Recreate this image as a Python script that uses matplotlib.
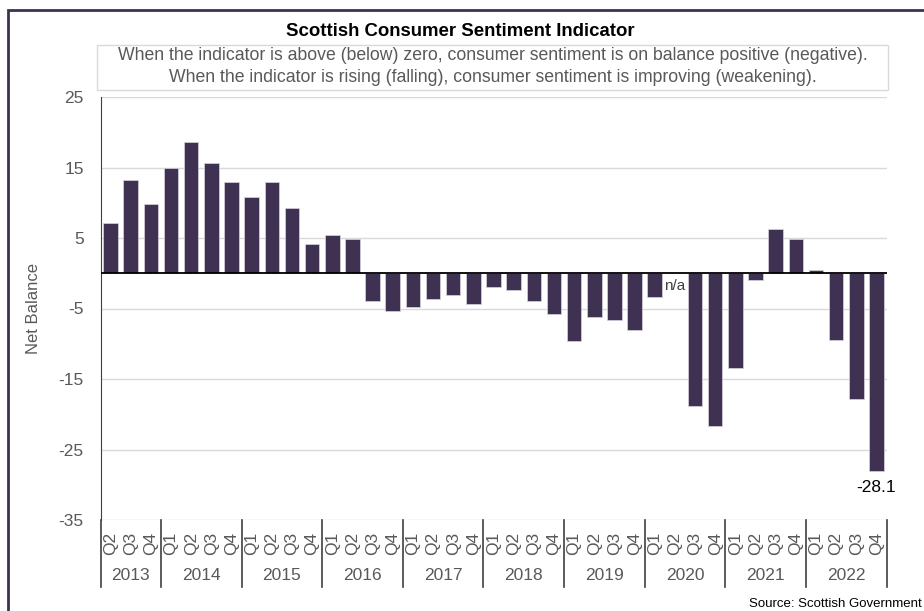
import matplotlib.pyplot as plt
import matplotlib.patches as mpatches
from matplotlib.lines import Line2D

plt.rcParams['font.family'] = ['Liberation Sans', 'DejaVu Sans']

years = ["2013", "2014", "2015", "2016", "2017", "2018", "2019", "2020", "2021", "2022"]
quarters = (["Q2", "Q3", "Q4"] + ["Q1", "Q2", "Q3", "Q4"] * 9)
# None = n/a (2020 Q2)
values = [7.1, 13.2, 9.8,
          14.9, 18.6, 15.6, 13.0,
          10.8, 13.0, 9.2, 4.2,
          5.4, 4.9, -3.9, -5.4,
          -4.8, -3.6, -3.1, -4.3,
          -1.9, -2.4, -3.9, -5.8,
          -9.6, -6.2, -6.6, -8.1,
          -3.4, None, -18.8, -21.6,
          -13.5, -0.9, 6.3, 4.9,
          0.5, -9.4, -17.8, -28.1]
yticks = [-35, -25, -15, -5, 5, 15, 25]

W, H = 924, 611
BAR = "#3f3151"
GREY = "#595959"

fig = plt.figure(figsize=(W / 100, H / 100), dpi=100)

# outer frame
fig.add_artist(mpatches.Rectangle((8 / W, -0.1), 1.2, (H - 10) / H + 0.1,
                                  transform=fig.transFigure, fill=False,
                                  edgecolor=BAR, linewidth=2))

x0, x1, ytop, ybot = 100.5, 886.5, 97, 520
ax = fig.add_axes([x0 / W, (H - ybot) / H, (x1 - x0) / W, (ybot - ytop) / H])

xs = list(range(len(values)))
for x, v in zip(xs, values):
    if v is None:
        ax.text(x, -0.8, "n/a", ha="center", va="top", fontsize=11, color="#404040")
        continue
    ax.bar(x, v, width=0.72, color=BAR, edgecolor="#d8d4de", linewidth=0.5, zorder=3)

ax.text(xs[-1], values[-1] - 1.2, f"{values[-1]:.1f}", ha="center", va="top",
        fontsize=12.5, color="black")

ax.set_xlim(-0.5, len(values) - 0.5)
ax.set_ylim(-35, 25)
ax.set_yticks(yticks)
ax.set_yticklabels([str(t) for t in yticks], fontsize=12.5, color=GREY)
ax.tick_params(axis="y", length=0, pad=12)
ax.set_xticks([])
ax.grid(axis="y", color="#d9d9d9", linewidth=1, zorder=0)
ax.axhline(0, color="black", linewidth=1.3, zorder=4)
for s in ["top", "right", "bottom"]:
    ax.spines[s].set_visible(False)
ax.spines["left"].set_color("#404040")

# category labels (quarters + years)
trans = ax.get_xaxis_transform()
ah = ybot - ytop
for x, q in zip(xs, quarters):
    ax.text(x, -(543 - ybot) / ah, q, rotation=90, ha="center", va="center",
            fontsize=12.5, color=GREY, transform=trans, clip_on=False)

starts = [-0.5]
n = 3
for i, yr in enumerate(years):
    start = starts[-1]
    end = start + n
    ax.text((start + end) / 2, -(576 - ybot) / ah, yr, ha="center", va="center",
            fontsize=12.5, color=GREY, transform=trans, clip_on=False)
    starts.append(end)
    n = 4
for s in starts:
    ax.add_line(Line2D([s, s], [0, -(587 - ybot) / ah], color="#404040", linewidth=1.2,
                       transform=trans, clip_on=False))

ax.set_ylabel("Net Balance", fontsize=12, color=GREY)
ax.yaxis.set_label_coords(-(x0 - 41) / (x1 - x0), 0.5)

# title and note box
fig.text(460 / W, 1 - 32 / H, "Scottish Consumer Sentiment Indicator",
         ha="center", va="center", fontsize=13.4, fontweight="bold")
fig.add_artist(mpatches.Rectangle((97 / W, 1 - 90 / H), (888 - 97) / W, 45 / H,
                                  transform=fig.transFigure, fill=False,
                                  edgecolor="#d9d9d9", linewidth=1))
fig.text(493 / W, 1 - 56 / H,
         "When the indicator is above (below) zero, consumer sentiment is on balance positive (negative).",
         ha="center", va="center", fontsize=12.7, color=GREY)
fig.text(493 / W, 1 - 77 / H,
         "When the indicator is rising (falling), consumer sentiment is improving (weakening).",
         ha="center", va="center", fontsize=12.7, color=GREY)

fig.text(922 / W, 1 - 604 / H, "Source: Scottish Government", ha="right", va="center",
         fontsize=9.5, color="black")

fig.savefig("out.png", dpi=100)
